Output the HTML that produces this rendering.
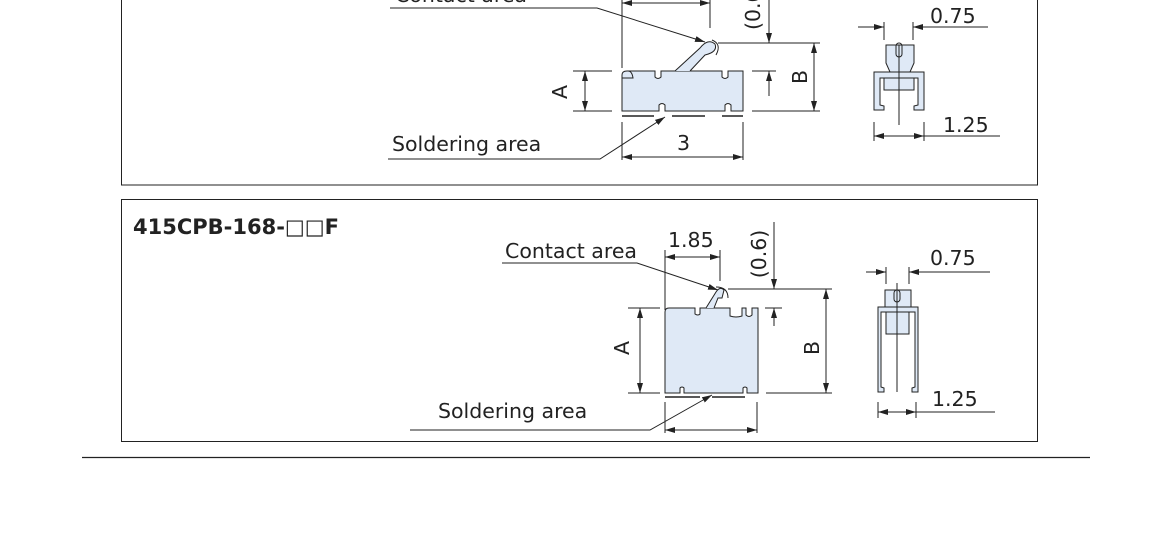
<!DOCTYPE html>
<html><head><meta charset="utf-8"><style>
html,body{margin:0;padding:0;background:#fff;width:1150px;height:542px;overflow:hidden}
svg text{font-family:"DejaVu Sans","Noto Sans CJK JP",sans-serif;font-size:20.5px;fill:#222}
</style></head><body>
<svg width="1150" height="542" viewBox="0 0 1150 542" xmlns="http://www.w3.org/2000/svg">
<defs>
<marker id="a" viewBox="0 0 10 6" refX="10" refY="3" markerWidth="10" markerHeight="6" orient="auto-start-reverse" markerUnits="userSpaceOnUse"><path d="M0,0L10,3L0,6z" fill="#222"/></marker>
</defs>
<g stroke="#222" stroke-width="1" fill="none">
<rect x="121.5" y="-10" width="916" height="195"/>
<rect x="121.5" y="199.5" width="916" height="242"/>
<line x1="82" y1="457.5" x2="1090" y2="457.5" stroke-width="1.2"/>

<polyline points="390,8 597,8 705,42" marker-end="url(#a)"/>
<line x1="622" y1="3" x2="710" y2="3" marker-start="url(#a)" marker-end="url(#a)"/>
<line x1="622" y1="0" x2="622" y2="68"/><line x1="710" y1="0" x2="710" y2="28"/>
<line x1="769" y1="0" x2="769" y2="43" marker-end="url(#a)"/>
<line x1="769" y1="96" x2="769" y2="71" marker-end="url(#a)"/>
<line x1="718" y1="43" x2="820" y2="43"/>
<line x1="752" y1="71" x2="776" y2="71"/>
<line x1="814" y1="43" x2="814" y2="111" marker-start="url(#a)" marker-end="url(#a)"/>
<line x1="752" y1="111" x2="820" y2="111"/>
<line x1="585" y1="71" x2="585" y2="111" marker-start="url(#a)" marker-end="url(#a)"/>
<line x1="573" y1="71" x2="612" y2="71"/><line x1="573" y1="111" x2="612" y2="111"/>
<path d="M622,75 Q622,71 627,71 L655,71 L655,77 Q658,80 661,77 L661,71 L722,71 L722,77 Q725,80 728,77 L728,71 L743,71 L743,111 L731,111 L731,105 Q728,102 725,105 L725,111 L665,111 L665,105 Q662,102 659,105 L659,111 L622,111 Z" fill="#dfe9f6"/>
<path d="M675,71 L700,48 Q708,38 715,44 Q718,52 705,55 L690,71" fill="#dfe9f6"/>
<path d="M712,40 Q722,44 716,55"/>
<path d="M622,78 L633,78 Q632,71 628,71"/>
<line x1="622" y1="116" x2="654" y2="116" stroke-width="1.5"/>
<line x1="672" y1="116" x2="705" y2="116" stroke-width="1.5"/>
<line x1="722" y1="116" x2="743" y2="116" stroke-width="1.5"/>
<polyline points="388,159 600,159 665,117" marker-end="url(#a)"/>
<line x1="622" y1="157" x2="743" y2="157" marker-start="url(#a)" marker-end="url(#a)"/>
<line x1="622" y1="122" x2="622" y2="160"/><line x1="743" y1="122" x2="743" y2="160"/>
<line x1="858" y1="27" x2="884" y2="27" marker-end="url(#a)"/>
<line x1="988" y1="27" x2="913" y2="27" marker-end="url(#a)"/>
<line x1="884" y1="22" x2="884" y2="40"/><line x1="913" y1="22" x2="913" y2="40"/>
<path d="M886,45 L914,45 L914,63 L910,72 L890,72 L886,63 Z" fill="#dfe9f6"/>
<rect x="884" y="78" width="30" height="12" fill="#dfe9f6"/>
<path d="M874,110 L874,72 L924,72 L924,110 L914,110 L914,106 L918,105 L918,78 L880,78 L880,105 L884,106 L884,110 Z" fill="#dfe9f6"/>
<line x1="899" y1="45" x2="899" y2="125"/>
<rect x="896" y="43" width="6" height="14" rx="3"/>
<line x1="874" y1="136" x2="924" y2="136" marker-start="url(#a)" marker-end="url(#a)"/>
<line x1="924" y1="136" x2="1000" y2="136"/>
<line x1="874" y1="122" x2="874" y2="141"/><line x1="924" y1="122" x2="924" y2="141"/>

<polyline points="502,263 637,263 718,290" marker-end="url(#a)"/>
<line x1="665" y1="257" x2="720" y2="257" marker-start="url(#a)" marker-end="url(#a)"/>
<line x1="665" y1="250" x2="665" y2="310"/><line x1="720" y1="250" x2="720" y2="281"/>
<line x1="774" y1="222" x2="774" y2="289" marker-end="url(#a)"/>
<line x1="774" y1="326" x2="774" y2="308" marker-end="url(#a)"/>
<line x1="728" y1="289" x2="832" y2="289"/>
<line x1="765" y1="308" x2="782" y2="308"/>
<line x1="826" y1="289" x2="826" y2="393" marker-start="url(#a)" marker-end="url(#a)"/>
<line x1="766" y1="393" x2="832" y2="393"/>
<line x1="640" y1="308" x2="640" y2="393" marker-start="url(#a)" marker-end="url(#a)"/>
<line x1="628" y1="308" x2="660" y2="308"/><line x1="628" y1="393" x2="660" y2="393"/>
<path d="M665,312 Q665,308 669,308 L695,308 L695,314 Q698,316 700,314 L700,308 L730,308 L730,316 Q736,318 742,316 L742,308 L746,308 L746,315 Q749,318 752,315 L752,308 L758,308 L758,393 L747,393 L747,388 Q745,386 743,388 L743,393 L684,393 L684,388 Q682,386 680,388 L680,393 L665,393 Z" fill="#dfe9f6"/>
<path d="M706,308 L716,292 Q720,286 724,290 L722,298 L718,298 L714,308" fill="#dfe9f6"/>
<path d="M716,287 Q728,287 728,298"/>
<line x1="665" y1="397" x2="700" y2="397" stroke-width="1.5"/>
<line x1="712" y1="397" x2="745" y2="397" stroke-width="1.5"/>
<polyline points="410,430 650,430 712,395" marker-end="url(#a)"/>
<line x1="665" y1="430" x2="757" y2="430" marker-start="url(#a)" marker-end="url(#a)"/>
<line x1="665" y1="402" x2="665" y2="433"/><line x1="757" y1="402" x2="757" y2="433"/>
<line x1="866" y1="272" x2="886" y2="272" marker-end="url(#a)"/>
<line x1="990" y1="272" x2="909" y2="272" marker-end="url(#a)"/>
<line x1="886" y1="267" x2="886" y2="284"/><line x1="909" y1="267" x2="909" y2="284"/>
<rect x="885" y="290" width="26" height="17" fill="#dfe9f6"/>
<rect x="886" y="312" width="23" height="22" fill="#dfe9f6"/>
<path d="M878,392 L878,307 L918,307 L918,392 L912,392 L912,388 L915,387 L915,312 L881,312 L881,387 L884,388 L884,392 Z" fill="#dfe9f6"/>
<line x1="897" y1="283" x2="897" y2="392"/>
<rect x="894" y="290" width="6" height="12" rx="3"/>
<line x1="878" y1="412" x2="916" y2="412" marker-start="url(#a)" marker-end="url(#a)"/>
<line x1="916" y1="412" x2="995" y2="412"/>
<line x1="878" y1="402" x2="878" y2="418"/><line x1="916" y1="402" x2="916" y2="418"/>
</g>

<text x="395" y="2">Contact area</text>
<text x="392" y="151">Soldering area</text>
<text x="677" y="150">3</text>
<text x="930" y="23">0.75</text>
<text x="943" y="132">1.25</text>
<text transform="translate(567,92) rotate(-90)" text-anchor="middle">A</text>
<text transform="translate(807,77) rotate(-90)" text-anchor="middle">B</text>
<text transform="translate(760,30) rotate(-90)">(0.6)</text>

<text x="133" y="234" style="font-weight:bold;font-size:21px">415CPB-168-□□F</text>
<text x="505" y="258">Contact area</text>
<text x="668" y="247">1.85</text>
<text transform="translate(766,254) rotate(-90)" text-anchor="middle">(0.6)</text>
<text transform="translate(629,348) rotate(-90)" text-anchor="middle">A</text>
<text transform="translate(819,348) rotate(-90)" text-anchor="middle">B</text>
<text x="438" y="418">Soldering area</text>
<text x="930" y="265">0.75</text>
<text x="932" y="406">1.25</text>
</svg>
</body></html>
